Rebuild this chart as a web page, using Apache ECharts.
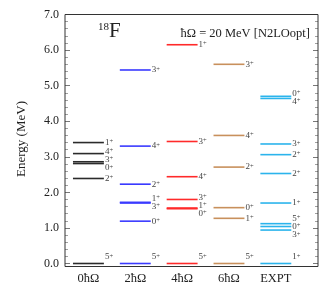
<!DOCTYPE html>
<html>
<head>
<meta charset="utf-8">
<script src="https://cdn.jsdelivr.net/npm/echarts@6/dist/echarts.min.js"></script>
<style>html,body{margin:0;padding:0;background:#fff}#c{width:324px;height:291px}</style>
</head>
<body>
<div id="c"></div>
<script>
// ---- data ----
const categories = ['0ħΩ', '2ħΩ', '4ħΩ', '6ħΩ', 'EXPT'];
const yTicks = [0, 1, 2, 3, 4, 5, 6, 7];

const energies0 = [0.00, 2.39, 2.81, 2.86, 3.09, 3.40];
const spins0    = ['5', '2', '0', '3', '4', '1'];

const energies2 = [0.00, 1.19, 1.70, 1.72, 2.23, 3.30, 5.44];
const spins2    = ['5', '0', '3', '1', '2', '4', '3'];

const energies4 = [0.00, 1.54, 1.56, 1.80, 2.44, 3.43, 6.15];
const spins4    = ['5', '0', '1', '3', '4', '3', '1'];

const energies6 = [0.00, 1.27, 1.57, 2.71, 3.60, 5.60];
const spins6    = ['5', '1', '0', '2', '4', '3'];

const energiesX = [0.00, 0.94, 1.04, 1.12, 1.70, 2.53, 3.06, 3.36, 4.64, 4.70];
const spinsX    = ['1', '3', '0', '5', '1', '2', '2', '3', '4', '0'];

// ---- layout / style ----
const FONT = '"Liberation Serif", "DejaVu Serif", serif';
const colors = ['#2b2b2b', '#3a3aff', '#ff2a2a', '#c8905c', '#2bb4ec'];
const gridL = 65, gridR = 6, gridT = 14.5, gridB = 27.5;
const frameBottom = 266.5;
const H = 291, W = 324;
const pxPerMeV = (H - gridB - gridT) / 7;
const gap = 8.2 / pxPerMeV;     // min label separation (MeV)
const floorE = 6.5 / pxPerMeV;  // lowest label position (MeV)
const halfW = 0.33;

function layoutLabels(es) {
  // centered cluster spreading
  const idx = es.map((e, i) => i).sort((a, b) => es[a] - es[b]);
  let clusters = idx.map(i => ({ ids: [i] }));
  const place = c => {
    const n = c.ids.length;
    let mean = c.ids.reduce((s, i) => s + Math.max(es[i], floorE), 0) / n;
    let start = mean - gap * (n - 1) / 2;
    if (start < floorE) start = floorE;
    c.start = start;
  };
  clusters.forEach(place);
  let changed = true;
  while (changed) {
    changed = false;
    for (let k = 0; k < clusters.length - 1; k++) {
      const a = clusters[k], b = clusters[k + 1];
      const aTop = a.start + gap * (a.ids.length - 1);
      if (b.start - aTop < gap - 1e-9) {
        const m = { ids: a.ids.concat(b.ids) };
        place(m);
        clusters.splice(k, 2, m);
        changed = true;
        break;
      }
    }
  }
  const out = new Array(es.length);
  clusters.forEach(c => c.ids.forEach((i, j) => { out[i] = c.start + gap * j; }));
  return out;
}

const allE = [energies0, energies2, energies4, energies6, energiesX];
const allS = [spins0, spins2, spins4, spins6, spinsX];

const series = allE.map((es, col) => {
  const lab = layoutLabels(es);
  const spins = allS[col];
  return {
    type: 'custom',
    name: categories[col],
    coordinateSystem: 'cartesian2d',
    clip: false,
    data: es.map((e, i) => [col + 1, e, lab[i]]),
    renderItem: function (params, api) {
      const x = api.value(0), e = api.value(1), le = api.value(2);
      const p1 = api.coord([x - halfW, e]);
      const p2 = api.coord([x + halfW, e]);
      const pl = api.coord([x + halfW, le]);
      return {
        type: 'group',
        children: [
          { type: 'line', shape: { x1: p1[0], y1: p1[1], x2: p2[0], y2: p2[1] },
            style: { stroke: colors[col], lineWidth: 1.6 } },
          { type: 'text', x: pl[0] + 1, y: pl[1],
            style: {
              text: '{a|' + spins[params.dataIndex] + '}{s|+}',
              verticalAlign: 'middle', align: 'left',
              rich: {
                a: { fontSize: 9, fontFamily: FONT, fill: '#444', lineHeight: 9, verticalAlign: 'middle' },
                s: { fontSize: 6.5, fontFamily: FONT, fill: '#444', lineHeight: 5, verticalAlign: 'top' }
              }
            } }
        ]
      };
    }
  };
});

const chart = echarts.init(document.getElementById('c'), null, { renderer: 'canvas' });
const yCommon = {
  type: 'value', min: 0, max: 7, interval: 1,
  axisLine: { show: false },
  splitLine: { show: false },
  axisTick: { show: true, inside: true, length: 5, lineStyle: { color: '#555', width: 0.8 } },
  minorTick: { show: true, splitNumber: 5, length: 3, lineStyle: { color: '#777', width: 0.7 } },
};
chart.setOption({
  animation: false,
  grid: { left: gridL, right: gridR, top: gridT, bottom: gridB },
  title: [
    { text: '{s|18}{f|F}', left: 93, top: 17,
      textStyle: { fontWeight: 'normal', rich: {
        s: { fontSize: 11, fontFamily: FONT, color: '#222', fontWeight: 'normal', verticalAlign: 'top', lineHeight: 10 },
        f: { fontSize: 21, fontFamily: FONT, color: '#222', fontWeight: 'normal', lineHeight: 20, verticalAlign: 'bottom' } } } },
    { text: 'ħΩ = 20 MeV [N2LOopt]', right: 9, top: 22,
      textStyle: { fontSize: 12.5, fontFamily: FONT, color: '#222', fontWeight: 'normal' } }
  ],
  xAxis: {
    type: 'value', min: 0.5, max: 5.9,
    axisLine: { show: false }, axisTick: { show: false }, splitLine: { show: false },
    axisLabel: { customValues: [1, 2, 3, 4, 5], formatter: v => categories[Math.round(v) - 1],
      fontSize: 12.5, fontFamily: FONT, color: '#222', margin: 9 }
  },
  yAxis: [
    Object.assign({}, yCommon, {
      position: 'left',
      name: 'Energy (MeV)', nameLocation: 'middle', nameGap: 37,
      nameTextStyle: { fontSize: 13, fontFamily: FONT, color: '#222' },
      axisLabel: { formatter: v => v.toFixed(1), fontSize: 12, fontFamily: FONT, color: '#222', margin: 6,
        customValues: yTicks }
    }),
    Object.assign({}, yCommon, { position: 'right', axisLabel: { show: false } })
  ],
  graphic: [{
    type: 'rect', z: 100, silent: true,
    shape: { x: gridL, y: gridT, width: W - gridL - gridR, height: frameBottom - gridT },
    style: { fill: 'none', stroke: '#333', lineWidth: 1 }
  }],
  series: series
});
</script>
</body>
</html>
